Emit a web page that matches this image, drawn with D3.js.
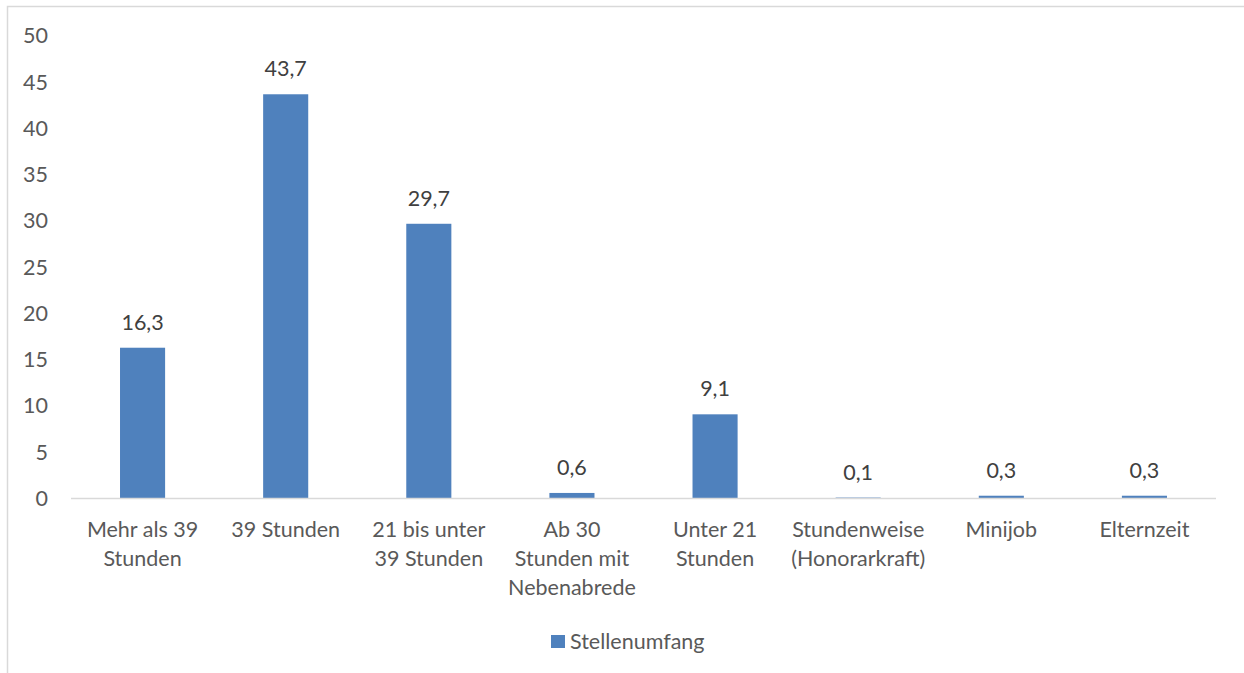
<!DOCTYPE html>
<html lang="de">
<head>
    <meta charset="UTF-8">
    <title>Stellenumfang</title>
    <script src="https://d3js.org/d3.v7.min.js"></script>
    <style>
        body { margin: 0; background: #fff; }
        text { font-family: Lato, "Open Sans", sans-serif; }
    </style>
</head>
<body>
<div id="chart"></div>
<script>

    // data
    var categories = [
        ["Mehr als 39", "Stunden"],
        ["39 Stunden"],
        ["21 bis unter", "39 Stunden"],
        ["Ab 30", "Stunden mit", "Nebenabrede"],
        ["Unter 21", "Stunden"],
        ["Stundenweise", "(Honorarkraft)"],
        ["Minijob"],
        ["Elternzeit"]
    ];
    var values = [16.3, 43.7, 29.7, 0.6, 9.1, 0.1, 0.3, 0.3];
    var yTicks = [0, 5, 10, 15, 20, 25, 30, 35, 40, 45, 50];
    var seriesName = "Stellenumfang";

    var W = 1244, H = 673;
    var margin = {top: 36, left: 71};
    var width = 1216 - margin.left,
        height = 498.5 - margin.top;
    var barColor = "#4f81bd";
    var fontSize = "21.5px";

    var svg = d3.select("#chart").append("svg")
        .attr("width", W)
        .attr("height", H);

    // outer chart border
    svg.append("rect")
        .attr("x", 7.5).attr("y", 6.5)
        .attr("width", W).attr("height", H)
        .attr("fill", "none")
        .attr("stroke", "#d9d9d9")
        .attr("stroke-width", 1.5);

    var g = svg.append("g")
        .attr("transform", "translate(" + margin.left + "," + margin.top + ")");

    var idx = d3.range(values.length);
    var x = d3.scaleBand()
        .domain(idx)
        .range([0, width])
        .paddingInner(0.685)
        .paddingOuter(0.3425);

    var y = d3.scaleLinear()
        .domain([0, 50])
        .range([height, 0]);

    // y axis labels (no line)
    var yAxis = g.append("g")
        .call(d3.axisLeft(y).tickValues(yTicks).tickSize(0).tickPadding(23));
    yAxis.select(".domain").remove();
    yAxis.selectAll("text")
        .attr("fill", "#595959")
        .style("font-size", fontSize);

    // bars
    g.selectAll(".bar")
        .data(values)
        .enter().append("rect")
        .attr("class", "bar")
        .attr("x", function (d, i) { return x(i); })
        .attr("y", function (d) { return y(d); })
        .attr("width", x.bandwidth())
        .attr("height", function (d) { return height - y(d); })
        .attr("fill", barColor);

    // x axis line
    g.append("line")
        .attr("x1", 0).attr("x2", width)
        .attr("y1", height).attr("y2", height)
        .attr("stroke", "#d9d9d9")
        .attr("stroke-width", 1.5);

    // value labels
    g.selectAll(".val")
        .data(values)
        .enter().append("text")
        .attr("class", "val")
        .attr("x", function (d, i) { return x(i) + x.bandwidth() / 2; })
        .attr("y", function (d) { return y(d) - 18; })
        .attr("text-anchor", "middle")
        .attr("fill", "#404040")
        .style("font-size", fontSize)
        .text(function (d) { return d.toFixed(1).replace(".", ","); });

    // category labels
    var cat = g.selectAll(".cat")
        .data(categories)
        .enter().append("text")
        .attr("class", "cat")
        .attr("text-anchor", "middle")
        .attr("fill", "#595959")
        .style("font-size", fontSize)
        .attr("transform", function (d, i) {
            return "translate(" + (x(i) + x.bandwidth() / 2) + "," + (height + 38) + ")";
        });
    cat.selectAll("tspan")
        .data(function (d) { return d; })
        .enter().append("tspan")
        .attr("x", 0)
        .attr("y", function (d, j) { return j * 29; })
        .text(function (d) { return d; });

    // legend
    var legend = svg.append("g")
        .attr("transform", "translate(551,635)");
    legend.append("rect")
        .attr("width", 14).attr("height", 13)
        .attr("fill", barColor);
    legend.append("text")
        .attr("x", 19).attr("y", 14)
        .attr("fill", "#595959")
        .style("font-size", fontSize)
        .text(seriesName);

</script>
</body>
</html>
